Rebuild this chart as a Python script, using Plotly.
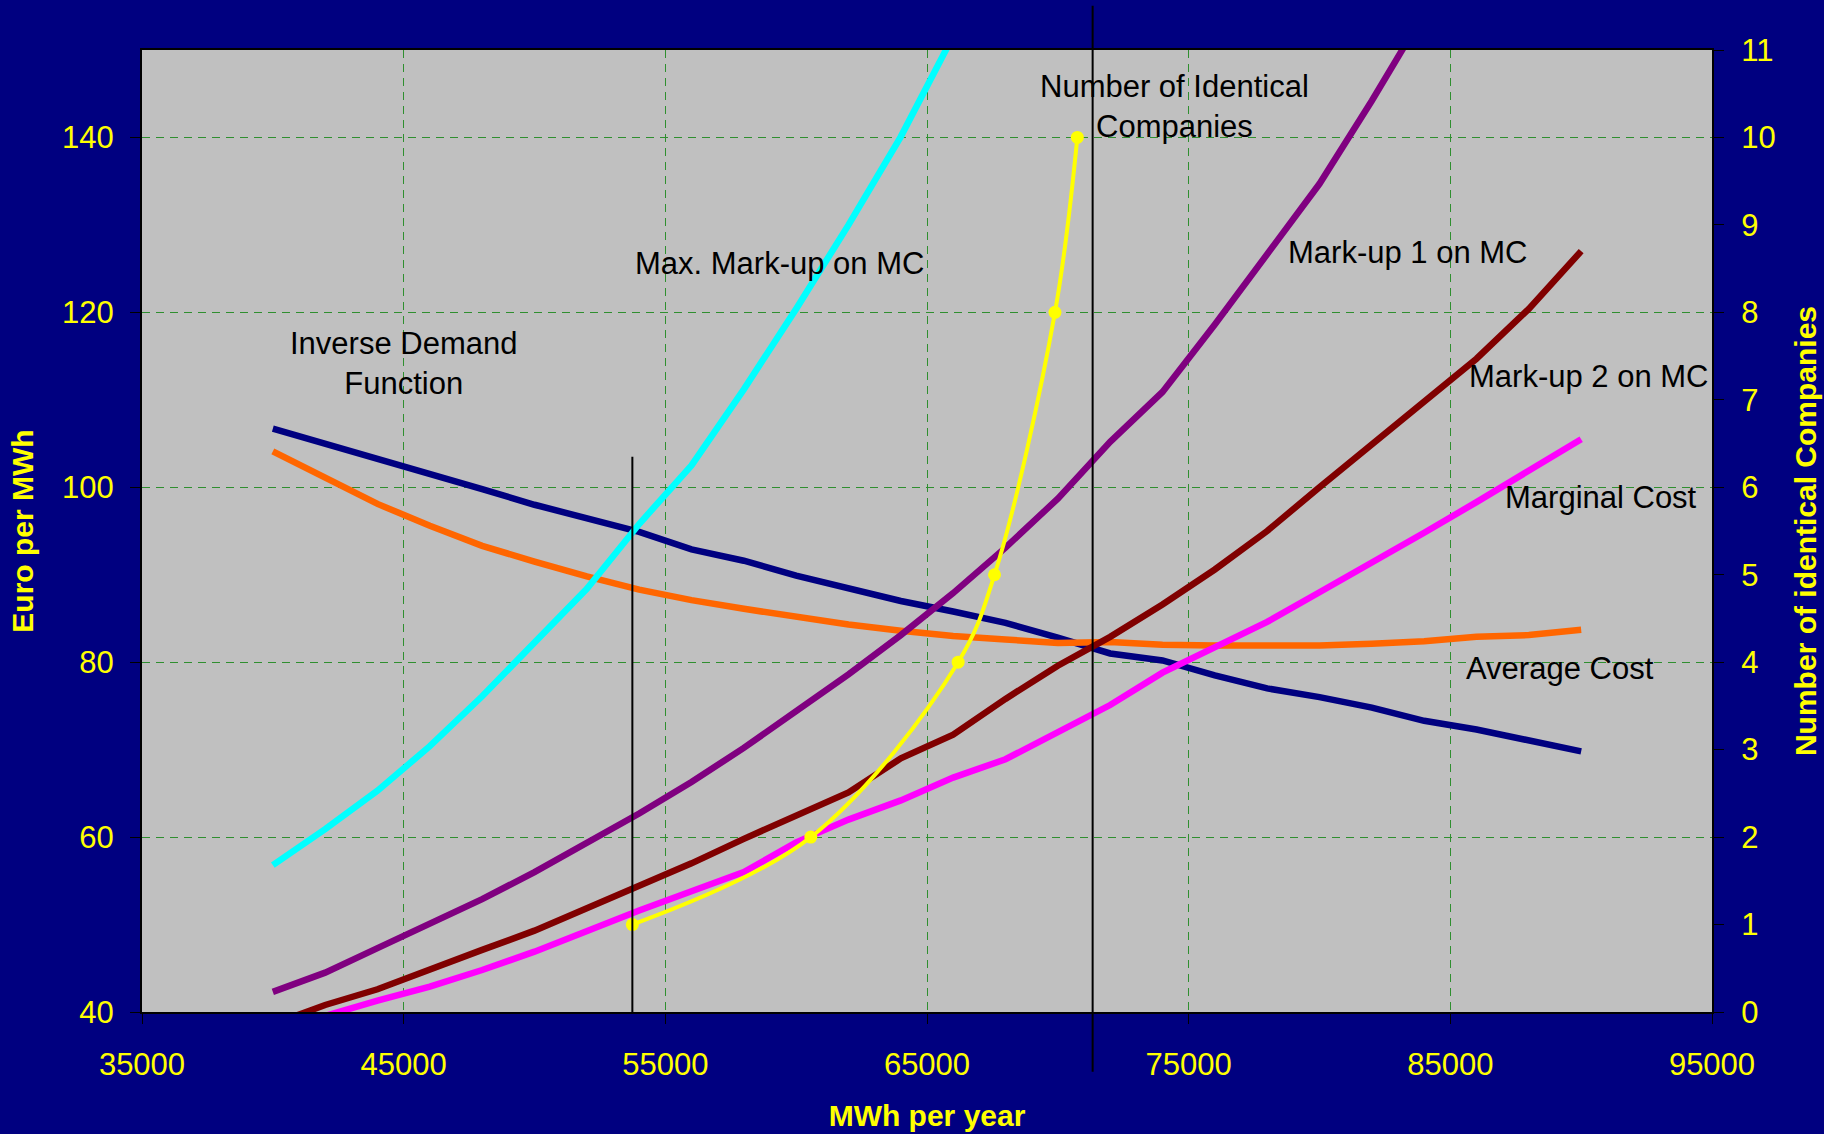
import plotly.graph_objects as go

# Output quantity (MWh per year) at which each cost / price curve is sampled
mwh = [40000, 42000, 44000, 46000, 48000, 50000, 52000, 54000, 56000, 58000,
       60000, 62000, 64000, 66000, 68000, 70000, 72000, 74000, 76000, 78000,
       80000, 82000, 84000, 86000, 88000, 90000]

# Euro per MWh
inverse_demand = [106.7, 105.0, 103.2, 101.5, 99.8, 98.0, 96.5, 94.9, 92.9, 91.6,
                  89.9, 88.5, 87.0, 85.8, 84.5, 82.8, 81.0, 80.2, 78.5, 77.0,
                  76.0, 74.8, 73.3, 72.3, 71.0, 69.8]
average_cost = [104.1, 101.0, 98.1, 95.6, 93.3, 91.5, 89.8, 88.3, 87.1, 86.1,
                85.2, 84.3, 83.6, 83.0, 82.6, 82.2, 82.3, 82.0, 81.9, 81.9,
                81.9, 82.1, 82.4, 82.9, 83.1, 83.7]
marginal_cost = [37.8, 39.6, 41.3, 42.9, 44.8, 46.9, 49.3, 51.6, 53.8, 56.0,
                 59.4, 62.0, 64.2, 66.8, 68.9, 72.1, 75.1, 78.8, 81.8, 84.6,
                 88.0, 91.3, 94.8, 98.3, 101.8, 105.5]
markup_2 = [38.6, 40.8, 42.6, 44.9, 47.1, 49.3, 51.8, 54.5, 57.0, 59.8,
            62.4, 65.1, 69.0, 71.7, 75.8, 79.6, 82.9, 86.6, 90.6, 95.0,
            100.0, 104.9, 109.7, 114.7, 120.4, 127.0]

# The steeper mark-up curves leave the top of the chart early
markup_1_mwh = mwh[:23]
markup_1 = [42.3, 44.5, 47.3, 50.0, 52.9, 56.0, 59.3, 62.7, 66.3, 70.2,
            74.4, 78.6, 83.1, 87.9, 93.1, 98.7, 105.2, 110.9, 118.6, 126.6,
            134.7, 144.2, 154.2]
max_markup_mwh = mwh[:14]
max_markup = [56.8, 60.9, 65.3, 70.4, 76.1, 82.3, 88.4, 95.8, 102.5, 111.2,
              120.4, 130.0, 140.1, 151.6]

# Number of identical companies (right axis)
company_mwh = [53740, 60560, 66190, 67580, 69890, 70745]
company_count = [1, 2, 4, 5, 8, 10]

# Reference quantities marked with vertical lines
monopoly_mwh = 53740
monopoly_price = 103.5
competitive_mwh = 71330

x_ticks = [35000, 45000, 55000, 65000, 75000, 85000, 95000]
y_ticks = [40, 60, 80, 100, 120, 140]
count_ticks = list(range(0, 12))

FONT = "Liberation Sans, Arial, sans-serif"
YELLOW = "#FFFF00"
GRID = "#2F8F2F"

fig = go.Figure()

curves = [
    ("Inverse Demand Function", mwh, inverse_demand, "#000080"),
    ("Average Cost", mwh, average_cost, "#FF6600"),
    ("Max. Mark-up on MC", max_markup_mwh, max_markup, "#00FFFF"),
    ("Mark-up 1 on MC", markup_1_mwh, markup_1, "#800080"),
    ("Mark-up 2 on MC", mwh, markup_2, "#800000"),
    ("Marginal Cost", mwh, marginal_cost, "#FF00FF"),
]
for name, xs, ys, color in curves:
    fig.add_trace(go.Scatter(
        x=xs, y=ys, name=name, mode="lines",
        line=dict(color=color, width=6.5),
        yaxis="y",
    ))

fig.add_trace(go.Scatter(
    x=company_mwh, y=company_count, name="Number of Identical Companies",
    mode="lines+markers", yaxis="y2",
    line=dict(color=YELLOW, width=4, shape="spline", smoothing=1.0),
    marker=dict(color=YELLOW, size=13),
))

# Vertical reference lines
fig.add_shape(type="line", xref="x", yref="y",
              x0=monopoly_mwh, x1=monopoly_mwh, y0=40, y1=monopoly_price,
              line=dict(color="black", width=2), layer="above")
fig.add_shape(type="line", xref="x", yref="paper",
              x0=competitive_mwh, x1=competitive_mwh, y0=-0.062, y1=1.046,
              line=dict(color="black", width=2), layer="above")

labels = [
    ("Inverse Demand<br>Function", 45000, 114.1),
    ("Max. Mark-up on MC", 59380, 125.6),
    ("Number of Identical<br>Companies", 74450, 143.5),
    ("Mark-up 1 on MC", 83360, 126.9),
    ("Mark-up 2 on MC", 90285, 112.7),
    ("Marginal Cost", 90740, 98.8),
    ("Average Cost", 89190, 79.3),
]
for text, x, y in labels:
    fig.add_annotation(x=x, y=y, xref="x", yref="y", text=text, showarrow=False,
                       font=dict(family=FONT, size=31, color="black"),
                       align="center", xanchor="center", yanchor="middle")

axis_common = dict(
    showline=True, linecolor="black", linewidth=2,
    ticks="outside", ticklen=10, tickcolor="black", tickwidth=1,
    tickfont=dict(family=FONT, size=31, color=YELLOW),
    zeroline=False, automargin=False,
)

fig.update_layout(
    width=1824, height=1134,
    margin=dict(l=142, r=112, t=50, b=122),
    paper_bgcolor="#000080",
    plot_bgcolor="#C0C0C0",
    showlegend=False,
    font=dict(family=FONT, color=YELLOW),
    xaxis=dict(
        range=[35000, 95000], tickmode="array", tickvals=x_ticks, tickformat="d",
        mirror=True, showgrid=True, gridcolor=GRID, gridwidth=1, griddash="8px,6px",
        ticklabelstandoff=14,
        title=dict(text="MWh per year", standoff=24,
                   font=dict(family=FONT, size=30, color=YELLOW, weight="bold")),
        **axis_common,
    ),
    yaxis=dict(
        range=[40, 150], tickmode="array", tickvals=y_ticks,
        mirror=True, showgrid=True, gridcolor=GRID, gridwidth=1, griddash="8px,6px",
        ticklabelstandoff=10,
        title=dict(text="Euro per MWh", standoff=20,
                   font=dict(family=FONT, size=30, color=YELLOW, weight="bold")),
        **axis_common,
    ),
    yaxis2=dict(
        range=[0, 11], tickmode="array", tickvals=count_ticks,
        overlaying="y", side="right", showgrid=False,
        ticklabelstandoff=11,
        title=dict(text="Number of identical Companies", standoff=20,
                   font=dict(family=FONT, size=30, color=YELLOW, weight="bold")),
        **axis_common,
    ),
)

fig.write_html("out.html")
